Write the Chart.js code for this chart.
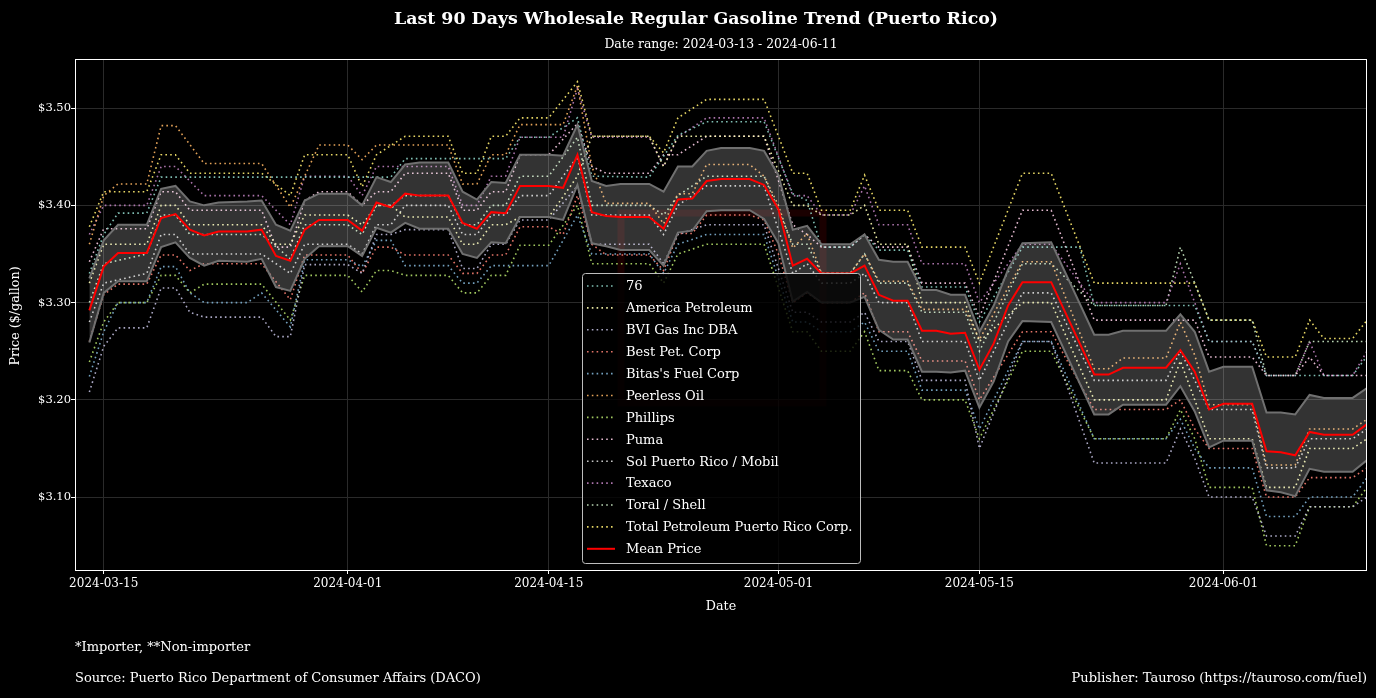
<!DOCTYPE html>
<html>
<head>
<meta charset="utf-8">
<script src="https://cdn.jsdelivr.net/npm/chart.js@4.4.1/dist/chart.umd.min.js"></script>
<style>
  html, body { margin: 0; padding: 0; background: #000; overflow: hidden; }
</style>
</head>
<body>
<canvas id="fuelChart" width="1376" height="698"></canvas>
<script>
// x values are days since 2024-03-13 (day 0), y values are $/gallon

// x axis ticks
const xTickDays = [2, 19, 33, 49, 63, 80];
const xTickLabels = ['2024-03-15', '2024-04-01', '2024-04-15', '2024-05-01', '2024-05-15', '2024-06-01'];
const yTicks = [3.1, 3.2, 3.3, 3.4, 3.5];

// importer names, same order as the legend
const importers = ['76', 'America Petroleum', 'BVI Gas Inc DBA', 'Best Pet. Corp', "Bitas's Fuel Corp",
  'Peerless Oil', 'Phillips', 'Puma', 'Sol Puerto Rico / Mobil', 'Texaco', 'Toral / Shell',
  'Total Petroleum Puerto Rico Corp.'];

// per importer price points [day, price]
const price76 = [[1,3.33],[2,3.37],[3,3.392],[5,3.392],[6,3.429],[22,3.429],[23,3.448],[30,3.448],[31,3.470],[33,3.470],[35,3.49],[36,3.43],[40,3.429],[42,3.472],[44,3.486],[48,3.486],[50,3.412],[51,3.405],[52,3.357],[54,3.357],[55,3.37],[56,3.354],[58,3.354],[59,3.316],[62,3.316],[63,3.28],[66,3.357],[70,3.357],[71,3.297],[78,3.297],[79,3.26],[82,3.26],[83,3.225],[89,3.225],[90,3.245]];
const priceAmerica = [[1,3.32],[2,3.36],[5,3.36],[6,3.40],[7,3.40],[8,3.38],[13,3.38],[14,3.36],[15,3.36],[16,3.39],[19,3.39],[20,3.38],[21,3.40],[22,3.40],[23,3.388],[26,3.388],[27,3.36],[28,3.36],[29,3.38],[30,3.38],[31,3.388],[33,3.388],[35,3.43],[36,3.471],[40,3.471],[41,3.44],[42,3.471],[48,3.471],[50,3.40],[51,3.40],[52,3.39],[54,3.39],[55,3.40],[56,3.36],[58,3.36],[59,3.30],[62,3.30],[63,3.26],[66,3.30],[68,3.30],[71,3.20],[76,3.20],[77,3.24],[78,3.20],[79,3.16],[82,3.16],[83,3.11],[85,3.11],[86,3.15],[89,3.15],[90,3.16]];
const priceBvi = [[1,3.208],[2,3.255],[3,3.274],[5,3.274],[6,3.315],[7,3.315],[8,3.29],[9,3.285],[13,3.285],[14,3.265],[15,3.265],[16,3.339],[19,3.339],[20,3.33],[21,3.37],[22,3.37],[23,3.375],[26,3.375],[27,3.335],[28,3.335],[29,3.36],[30,3.36],[31,3.385],[33,3.385],[35,3.42],[36,3.36],[40,3.36],[41,3.34],[42,3.37],[44,3.38],[48,3.38],[50,3.29],[51,3.29],[52,3.28],[54,3.28],[55,3.29],[56,3.26],[58,3.26],[59,3.22],[62,3.22],[63,3.15],[66,3.26],[68,3.26],[71,3.135],[76,3.135],[77,3.17],[78,3.14],[79,3.10],[82,3.10],[83,3.06],[85,3.06],[86,3.09],[89,3.09],[90,3.10]];
const priceBest = [[1,3.26],[2,3.308],[3,3.319],[5,3.319],[6,3.349],[7,3.349],[8,3.333],[9,3.340],[13,3.340],[15,3.303],[16,3.349],[19,3.349],[20,3.330],[21,3.357],[22,3.357],[23,3.349],[26,3.349],[27,3.330],[28,3.330],[29,3.349],[30,3.349],[31,3.378],[33,3.378],[34,3.37],[35,3.41],[36,3.36],[37,3.349],[40,3.349],[41,3.333],[42,3.371],[43,3.371],[44,3.390],[47,3.390],[48,3.385],[49,3.35],[50,3.30],[51,3.31],[52,3.30],[54,3.30],[55,3.31],[56,3.27],[58,3.27],[59,3.24],[62,3.24],[63,3.20],[66,3.27],[68,3.27],[71,3.19],[76,3.19],[77,3.20],[78,3.17],[79,3.15],[82,3.15],[83,3.10],[85,3.10],[86,3.12],[89,3.12],[90,3.13]];
const priceBitas = [[1,3.224],[2,3.27],[3,3.30],[5,3.30],[6,3.337],[7,3.337],[8,3.31],[9,3.30],[12,3.30],[13,3.31],[15,3.275],[16,3.344],[19,3.344],[20,3.337],[21,3.364],[22,3.364],[23,3.338],[26,3.338],[27,3.320],[28,3.320],[29,3.338],[33,3.338],[35,3.39],[36,3.35],[40,3.35],[41,3.33],[42,3.36],[44,3.37],[48,3.37],[50,3.28],[51,3.28],[52,3.27],[54,3.27],[55,3.28],[56,3.25],[58,3.25],[59,3.21],[62,3.21],[63,3.17],[66,3.26],[68,3.26],[71,3.16],[76,3.16],[77,3.18],[78,3.15],[79,3.13],[82,3.13],[83,3.08],[85,3.08],[86,3.10],[89,3.10],[90,3.12]];
const pricePeerless = [[1,3.36],[2,3.41],[3,3.422],[5,3.422],[6,3.482],[7,3.482],[9,3.443],[13,3.443],[15,3.398],[17,3.462],[19,3.462],[20,3.447],[21,3.462],[26,3.462],[27,3.422],[28,3.422],[29,3.452],[30,3.452],[31,3.483],[34,3.483],[35,3.523],[36,3.44],[37,3.402],[40,3.402],[41,3.381],[42,3.412],[43,3.412],[44,3.442],[47,3.442],[48,3.43],[49,3.40],[50,3.356],[51,3.371],[52,3.330],[54,3.330],[55,3.35],[56,3.322],[58,3.322],[59,3.293],[62,3.293],[63,3.262],[66,3.342],[68,3.342],[71,3.232],[72,3.232],[73,3.243],[76,3.243],[77,3.28],[78,3.246],[79,3.195],[82,3.195],[83,3.133],[85,3.133],[86,3.17],[89,3.17],[90,3.18]];
const pricePhillips = [[1,3.239],[2,3.28],[3,3.30],[5,3.30],[6,3.328],[7,3.328],[8,3.31],[9,3.319],[13,3.319],[15,3.282],[16,3.328],[19,3.328],[20,3.311],[21,3.333],[22,3.333],[23,3.328],[26,3.328],[27,3.310],[28,3.310],[29,3.328],[30,3.328],[31,3.359],[33,3.359],[35,3.40],[36,3.34],[40,3.34],[41,3.32],[42,3.35],[44,3.36],[48,3.36],[50,3.27],[51,3.27],[52,3.25],[54,3.25],[55,3.27],[56,3.23],[58,3.23],[59,3.20],[62,3.20],[63,3.16],[66,3.25],[68,3.25],[71,3.16],[76,3.16],[77,3.19],[78,3.16],[79,3.11],[82,3.11],[83,3.05],[85,3.05],[86,3.09],[89,3.09],[90,3.11]];
const pricePuma = [[1,3.342],[2,3.376],[5,3.376],[6,3.414],[7,3.414],[8,3.395],[13,3.395],[14,3.357],[15,3.357],[16,3.405],[17,3.414],[19,3.414],[20,3.400],[21,3.414],[22,3.414],[23,3.433],[26,3.433],[27,3.395],[28,3.395],[29,3.414],[30,3.414],[31,3.452],[33,3.452],[35,3.484],[36,3.44],[37,3.433],[40,3.433],[41,3.452],[42,3.452],[44,3.471],[48,3.471],[50,3.38],[51,3.37],[52,3.357],[54,3.357],[55,3.37],[56,3.357],[58,3.357],[59,3.320],[62,3.320],[63,3.285],[66,3.395],[68,3.395],[71,3.282],[78,3.282],[79,3.244],[82,3.244],[83,3.225],[85,3.225],[86,3.244],[87,3.225],[90,3.225]];
const priceSol = [[1,3.28],[2,3.32],[5,3.33],[6,3.37],[7,3.37],[8,3.35],[13,3.35],[15,3.33],[16,3.36],[19,3.36],[20,3.35],[21,3.38],[22,3.38],[23,3.40],[26,3.40],[27,3.37],[28,3.37],[29,3.39],[30,3.39],[31,3.41],[33,3.41],[35,3.45],[36,3.39],[40,3.39],[41,3.37],[42,3.40],[44,3.42],[48,3.42],[50,3.33],[51,3.34],[52,3.32],[54,3.32],[55,3.33],[56,3.30],[58,3.30],[59,3.26],[62,3.26],[63,3.22],[66,3.31],[68,3.31],[71,3.22],[76,3.22],[77,3.25],[78,3.22],[79,3.19],[82,3.19],[83,3.13],[85,3.13],[86,3.16],[89,3.16],[90,3.17]];
const priceTexaco = [[1,3.37],[2,3.40],[5,3.40],[6,3.44],[7,3.44],[9,3.41],[13,3.41],[15,3.38],[16,3.43],[19,3.43],[20,3.41],[21,3.44],[26,3.44],[27,3.40],[28,3.40],[29,3.43],[30,3.43],[31,3.47],[34,3.47],[35,3.52],[36,3.47],[40,3.47],[41,3.44],[42,3.47],[44,3.49],[48,3.49],[50,3.41],[51,3.41],[52,3.39],[54,3.39],[55,3.42],[56,3.38],[58,3.38],[59,3.34],[62,3.34],[63,3.30],[66,3.36],[68,3.36],[71,3.30],[76,3.30],[77,3.34],[78,3.30],[79,3.26],[82,3.26],[83,3.225],[85,3.225],[86,3.26],[87,3.225],[89,3.225],[90,3.25]];
const priceToral = [[1,3.30],[2,3.34],[5,3.35],[6,3.39],[7,3.39],[8,3.37],[13,3.37],[15,3.345],[16,3.38],[19,3.38],[20,3.37],[21,3.40],[22,3.40],[23,3.41],[26,3.41],[27,3.38],[28,3.38],[29,3.40],[30,3.40],[31,3.43],[33,3.43],[35,3.47],[36,3.40],[40,3.40],[41,3.39],[42,3.41],[44,3.43],[48,3.43],[50,3.36],[51,3.36],[52,3.33],[54,3.33],[55,3.35],[56,3.32],[58,3.32],[59,3.29],[62,3.29],[63,3.25],[66,3.34],[68,3.34],[71,3.297],[76,3.297],[77,3.357],[78,3.32],[79,3.282],[82,3.282],[83,3.225],[85,3.225],[86,3.26],[89,3.26],[90,3.26]];
const priceTotal = [[1,3.378],[2,3.414],[5,3.414],[6,3.452],[7,3.452],[8,3.433],[13,3.433],[15,3.41],[16,3.452],[19,3.452],[20,3.419],[21,3.452],[23,3.471],[26,3.471],[27,3.433],[28,3.433],[29,3.471],[30,3.471],[31,3.490],[33,3.490],[35,3.527],[36,3.471],[40,3.471],[41,3.454],[42,3.490],[44,3.509],[48,3.509],[50,3.433],[51,3.433],[52,3.395],[54,3.395],[55,3.431],[56,3.395],[58,3.395],[59,3.357],[62,3.357],[63,3.320],[66,3.433],[68,3.433],[71,3.320],[78,3.320],[79,3.282],[82,3.282],[83,3.244],[85,3.244],[86,3.282],[87,3.263],[89,3.263],[90,3.282]];

const importerPrices = [price76, priceAmerica, priceBvi, priceBest, priceBitas, pricePeerless,
  pricePhillips, pricePuma, priceSol, priceTexaco, priceToral, priceTotal];

// mean price and its standard deviation (band)
const meanPrice = [[1,3.292],[2,3.337],[3,3.351],[5,3.351],[6,3.387],[7,3.391],[8,3.375],[9,3.369],[10,3.373],[12,3.373],[13,3.375],[14,3.348],[15,3.343],[16,3.375],[17,3.385],[19,3.385],[20,3.374],[21,3.403],[22,3.398],[23,3.412],[24,3.410],[26,3.410],[27,3.382],[28,3.376],[29,3.393],[30,3.392],[31,3.420],[33,3.420],[34,3.418],[35,3.452],[36,3.393],[37,3.389],[38,3.388],[40,3.388],[41,3.376],[42,3.406],[43,3.407],[44,3.425],[45,3.427],[47,3.427],[48,3.421],[49,3.396],[50,3.338],[51,3.345],[52,3.330],[54,3.330],[55,3.338],[56,3.308],[57,3.302],[58,3.302],[59,3.271],[60,3.271],[61,3.268],[62,3.269],[63,3.231],[64,3.258],[65,3.297],[66,3.321],[68,3.321],[71,3.226],[72,3.226],[73,3.233],[76,3.233],[77,3.251],[78,3.229],[79,3.19],[80,3.196],[82,3.196],[83,3.147],[84,3.146],[85,3.143],[86,3.167],[87,3.164],[89,3.164],[90,3.175]];
const priceStd = [.033,.027,.029,.029,.030,.029,.029,.031,.030,.031,.030,.032,.031,.030,.027,.027,.026,.026,.026,.030,.034,.034,.032,.030,.031,.031,.032,.032,.033,.031,.032,.031,.034,.034,.038,.034,.033,.031,.032,.032,.035,.035,.037,.034,.030,.030,.032,.036,.040,.040,.042,.042,.040,.039,.039,.039,.037,.040,.041,.041,.041,.038,.038,.037,.041,.039,.038,.038,.040,.041,.042,.038,.038,.038,.037];

const lineColors = ['#8dd3c7', '#ffffb3', '#bebada', '#fb8072', '#80b1d3', '#fdb462',
  '#b3de69', '#fccde5', '#d9d9d9', '#bc80bd', '#ccebc5', '#ffed6f'];

const FONT = "'DejaVu Serif', serif";

const toPoints = (arr) => arr.map(([d, v]) => ({ x: d, y: v }));

const datasets = [];

// mean line on top
datasets.push({
  label: 'Mean Price',
  data: toPoints(meanPrice),
  borderColor: '#ff0000',
  borderWidth: 2,
  pointRadius: 0,
  fill: false,
  order: 0,
});

// std band
datasets.push({
  label: 'upper',
  data: meanPrice.map(([d, v], i) => ({ x: d, y: v + priceStd[i] })),
  borderColor: '#707070',
  borderWidth: 2,
  pointRadius: 0,
  fill: false,
  order: 1,
});
datasets.push({
  label: 'lower',
  data: meanPrice.map(([d, v], i) => ({ x: d, y: v - priceStd[i] })),
  borderColor: '#707070',
  borderWidth: 2,
  pointRadius: 0,
  fill: '-1',
  backgroundColor: 'rgba(255,255,255,0.2)',
  order: 1,
});

importers.forEach((name, i) => {
  datasets.push({
    label: name,
    data: toPoints(importerPrices[i]),
    borderColor: lineColors[i] + 'e6',
    borderWidth: 1.6,
    borderDash: [1.6, 3.2],
    pointRadius: 0,
    fill: false,
    order: 2,
  });
});

// draws background, watermark, frame, custom legend and all figure texts
const decorPlugin = {
  id: 'decor',
  beforeDraw(chart) {
    const ctx = chart.ctx;
    ctx.save();
    ctx.fillStyle = '#000';
    ctx.fillRect(0, 0, chart.width, chart.height);
    ctx.restore();
  },
  beforeDatasetsDraw(chart) {
    // faint logo watermark
    const ctx = chart.ctx;
    ctx.save();
    ctx.strokeStyle = 'rgba(200,0,0,0.13)';
    ctx.lineWidth = 7;
    ctx.strokeRect(621, 213, 202, 190);
    ctx.restore();
  },
  afterDraw(chart) {
    const ctx = chart.ctx;
    const a = chart.chartArea;
    ctx.save();

    // axes frame
    ctx.strokeStyle = '#ffffff';
    ctx.lineWidth = 1;
    ctx.strokeRect(a.left + 0.5, a.top + 0.5, a.right - a.left - 1, a.bottom - a.top);

    // legend
    const lx = 582, ly = 273, lw = 278, lh = 290;
    ctx.beginPath();
    ctx.roundRect(lx + 0.5, ly + 0.5, lw, lh, 3);
    ctx.fillStyle = 'rgba(0,0,0,0.8)';
    ctx.fill();
    ctx.strokeStyle = '#bdbdbd';
    ctx.stroke();
    ctx.font = '13px ' + FONT;
    ctx.textBaseline = 'middle';
    ctx.textAlign = 'left';
    const names = importers.concat(['Mean Price']);
    names.forEach((name, i) => {
      const y = 286 + i * 21.9;
      ctx.beginPath();
      ctx.moveTo(587, y);
      ctx.lineTo(615, y);
      if (i < importers.length) {
        ctx.setLineDash([1.6, 3.2]);
        ctx.lineWidth = 1.6;
        ctx.strokeStyle = lineColors[i] + 'e6';
      } else {
        ctx.setLineDash([]);
        ctx.lineWidth = 2;
        ctx.strokeStyle = '#ff0000';
      }
      ctx.stroke();
      ctx.fillStyle = '#ffffff';
      ctx.fillText(name, 626, y + 1);
    });
    ctx.setLineDash([]);

    // titles
    ctx.fillStyle = '#ffffff';
    ctx.textAlign = 'center';
    ctx.font = 'bold 17.4px ' + FONT;
    ctx.fillText('Last 90 Days Wholesale Regular Gasoline Trend (Puerto Rico)', 696, 19);
    ctx.font = '12.4px ' + FONT;
    ctx.fillText('Date range: 2024-03-13 - 2024-06-11', 721, 45);
    ctx.font = '12.7px ' + FONT;
    ctx.fillText('Date', 721, 607);

    ctx.save();
    ctx.translate(16, 316);
    ctx.rotate(-Math.PI / 2);
    ctx.fillText('Price ($/gallon)', 0, 0);
    ctx.restore();

    ctx.font = '13px ' + FONT;
    ctx.textAlign = 'left';
    ctx.fillText('*Importer, **Non-importer', 75, 648);
    ctx.fillText('Source: Puerto Rico Department of Consumer Affairs (DACO)', 75, 679);
    ctx.textAlign = 'right';
    ctx.fillText('Publisher: Tauroso (https://tauroso.com/fuel)', 1367, 679);
    ctx.restore();
  },
};

const chartconfig = {
  type: 'line',
  data: { datasets },
  plugins: [decorPlugin],
  options: {
    responsive: false,
    animation: false,
    devicePixelRatio: 1,
    layout: { padding: { top: 59, right: 9, left: 0, bottom: 0 } },
    plugins: {
      legend: { display: false },
      tooltip: { enabled: false },
      title: { display: false },
      filler: { drawTime: 'beforeDatasetDraw' },
    },
    scales: {
      x: {
        type: 'linear',
        min: 0,
        max: 90,
        afterBuildTicks: (scale) => { scale.ticks = xTickDays.map((v) => ({ value: v })); },
        afterFit: (scale) => { scale.height = 128; },
        ticks: {
          color: '#ffffff',
          font: { family: FONT, size: 12 },
          padding: 3,
          maxRotation: 0,
          callback: (v) => xTickLabels[xTickDays.indexOf(v)],
        },
        grid: { color: '#2a2a2a', tickColor: '#ffffff', tickLength: 4 },
        border: { display: false },
      },
      y: {
        min: 3.025,
        max: 3.5505,
        afterBuildTicks: (scale) => { scale.ticks = yTicks.map((v) => ({ value: v })); },
        afterFit: (scale) => { scale.width = 75; },
        ticks: {
          color: '#ffffff',
          font: { family: FONT, size: 11.5 },
          padding: 0,
          callback: (v) => '$' + v.toFixed(2),
        },
        grid: { color: '#2a2a2a', tickColor: '#ffffff', tickLength: 4 },
        border: { display: false },
      },
    },
  },
};

const chart = new Chart('fuelChart', chartconfig);
</script>
</body>
</html>
